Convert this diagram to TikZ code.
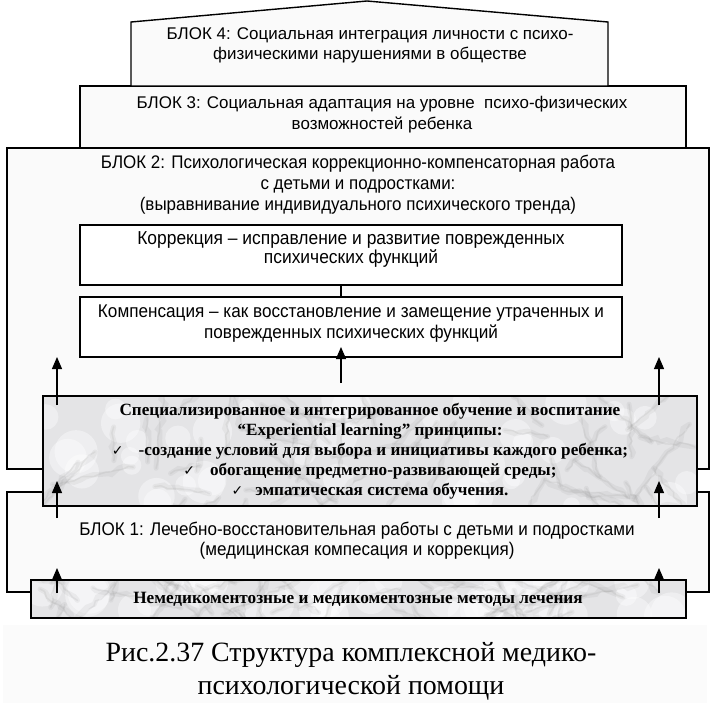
\documentclass[tikz,border=0pt]{standalone}
\usepackage{fontspec}
\setmainfont{Liberation Serif}
\newfontfamily\sansf{Liberation Sans}
\newfontfamily\narrowf[FakeStretch=0.93]{Liberation Sans}
\newfontfamily\dejavu{DejaVu Sans}
\usetikzlibrary{arrows.meta,decorations.pathmorphing}
\definecolor{blockfill}{RGB}{250,250,250}
\definecolor{marblebase}{RGB}{228,228,230}
\definecolor{capfill}{RGB}{251,251,251}
\newcommand{\marblefill}[5]{%
  \begin{scope}
    \clip (#1,#2) rectangle (#3,#4);
    \fill[marblebase] (#1,#2) rectangle (#3,#4);
    \pgfmathsetseed{#5}
    \foreach \i in {1,...,40}{%
      \pgfmathsetmacro\px{#1+(#3-#1)*rnd}%
      \pgfmathsetmacro\py{#2+(#4-#2)*rnd}%
      \fill[white, opacity=0.4] (\px,\py) circle (8+14*rnd);
    }
    \foreach \i in {1,...,55}{%
      \pgfmathsetmacro\px{#1+(#3-#1)*rnd}%
      \pgfmathsetmacro\py{#2+(#4-#2)*rnd}%
      \pgfmathsetmacro\ang{360*rnd}%
      \pgfmathsetmacro\len{25+70*rnd}%
      \draw[black!50, opacity=0.09, line width=5bp, line cap=round, decorate,
        decoration={random steps,segment length=7bp,amplitude=3bp}]
        (\px,\py) -- ++(\ang:\len);
      \draw[black!50, opacity=0.11, line width=1.5bp, line cap=round, decorate,
        decoration={random steps,segment length=6bp,amplitude=2bp}]
        (\px,\py) -- ++(\ang:\len);
    }
  \end{scope}}
\begin{document}
\begin{tikzpicture}[x=1bp,y=-1bp,
  frame/.style={draw=black, line width=1.4bp, fill=blockfill, inner sep=0, outer sep=0, anchor=north west},
  whitebox/.style={draw=black, line width=1.4bp, fill=white, inner sep=0, outer sep=0, anchor=north west},
  marblebox/.style={draw=black, line width=1.6bp, inner sep=0, outer sep=0, anchor=north west},
  txt/.style={align=center, inner sep=0},
  sanstxt/.style={txt, font=\sansf\fontsize{17}{20}\selectfont},
  narrowtxt/.style={txt, font=\narrowf\fontsize{18.5}{21}\selectfont},
  boldtxt/.style={txt, font=\bfseries\fontsize{17.2}{20}\selectfont},
  captxt/.style={txt, font=\fontsize{28}{33}\selectfont},
  arr/.style={-{Triangle[length=12bp,width=10bp]}, line width=1.1bp}
]
\useasboundingbox (0,0) rectangle (711,703);
% caption background
\fill[capfill] (3,625) rectangle (707,703);
% block 2
\node[frame, minimum width=702bp, minimum height=321bp] (b2) at (7,148) {};
% block 3
\node[frame, minimum width=606bp, minimum height=62bp] (b3) at (80,86) {};
% block 4 (house)
\draw[line width=1.4bp, fill=blockfill] (131,86) -- (131,22) -- (367,1) -- (608,22) -- (608,86) -- cycle;
\node[sanstxt] (t4) at (370,45.5) {БЛОК 4: Социальная интеграция личности с психо-\\физическими нарушениями в обществе};
\node[sanstxt, font=\sansf\fontsize{17}{21}\selectfont] (t3) at (382,114.5) {БЛОК 3: Социальная адаптация на уровне \ психо-физических\\возможностей ребенка};
\node[narrowtxt, font=\narrowf\fontsize{18.3}{21}\selectfont] (t2) at (358,185) {БЛОК 2: Психологическая коррекционно-компенсаторная работа\\с детьми и подростками:\\(выравнивание индивидуального психического тренда)};
% inner boxes
\node[whitebox, minimum width=542bp, minimum height=60bp] (corr) at (80,225) {};
\node[narrowtxt, font=\narrowf\fontsize{18.8}{20}\selectfont] (tc) at (351,249.5) {Коррекция – исправление и развитие поврежденных\\психических функций};
\node[whitebox, minimum width=542bp, minimum height=60bp] (comp) at (80,297) {};
\node[narrowtxt, font=\narrowf\fontsize{18.5}{21}\selectfont] (tk) at (351,323.5) {Компенсация – как восстановление и замещение утраченных и\\поврежденных психических функций};
% block 1
\node[frame, minimum width=702bp, minimum height=100bp] (b1) at (7,492) {};
\node[narrowtxt, font=\narrowf\fontsize{18.4}{19.5}\selectfont] (t1) at (357,540.5) {БЛОК 1: Лечебно-восстановительная работы с детьми и подростками\\(медицинская компесация и коррекция)};
% marble box 1
\marblefill{43}{396}{697}{506}{7}
\node[marblebox, minimum width=654bp, minimum height=110bp] (mar) at (43,396) {};
\node[boldtxt] (tm) at (370,451) {Специализированное и интегрированное обучение и воспитание\\“Experiential learning” принципы:\\{\dejavu\fontsize{14}{20}\selectfont ✓}\hspace{15bp}-создание условий для выбора и инициативы каждого ребенка;\\{\dejavu\fontsize{14}{20}\selectfont ✓}\hspace{15bp}обогащение предметно-развивающей среды;\\{\dejavu\fontsize{14}{20}\selectfont ✓}\hspace{12bp}эмпатическая система обучения.};
% marble box 2
\marblefill{31}{580}{686}{618}{3}
\node[marblebox, minimum width=655bp, minimum height=38bp] (mar2) at (31,580) {};
\node[boldtxt, font=\bfseries\fontsize{17.3}{20}\selectfont] (tm2) at (358,599) {Немедикоментозные и медикоментозные методы лечения};
% caption
\node[captxt] (cap) at (351,671) {Рис.2.37 Структура комплексной медико-\\психологической помощи};
% connectors
\coordinate (cx) at (341,383);
\draw[line width=1.1bp] (corr.south -| cx) -- (comp.north -| cx);
\draw[arr, shorten >=-10bp] (cx) -- (comp.south -| cx);
\coordinate (l1s) at (57,405);
\coordinate (r1s) at (659,405);
\draw[arr] (l1s) -- (comp.south -| l1s);
\draw[arr] (r1s) -- (comp.south -| r1s);
\coordinate (l2s) at (57,518);
\coordinate (l2e) at (57,481);
\coordinate (r2s) at (659,518);
\coordinate (r2e) at (659,481);
\draw[arr] (l2s) -- (l2e);
\draw[arr] (r2s) -- (r2e);
\coordinate (l3s) at (57,593);
\coordinate (l3e) at (57,568);
\coordinate (r3s) at (659,593);
\coordinate (r3e) at (659,568);
\draw[arr] (l3s) -- (l3e);
\draw[arr] (r3s) -- (r3e);
\end{tikzpicture}
\end{document}
